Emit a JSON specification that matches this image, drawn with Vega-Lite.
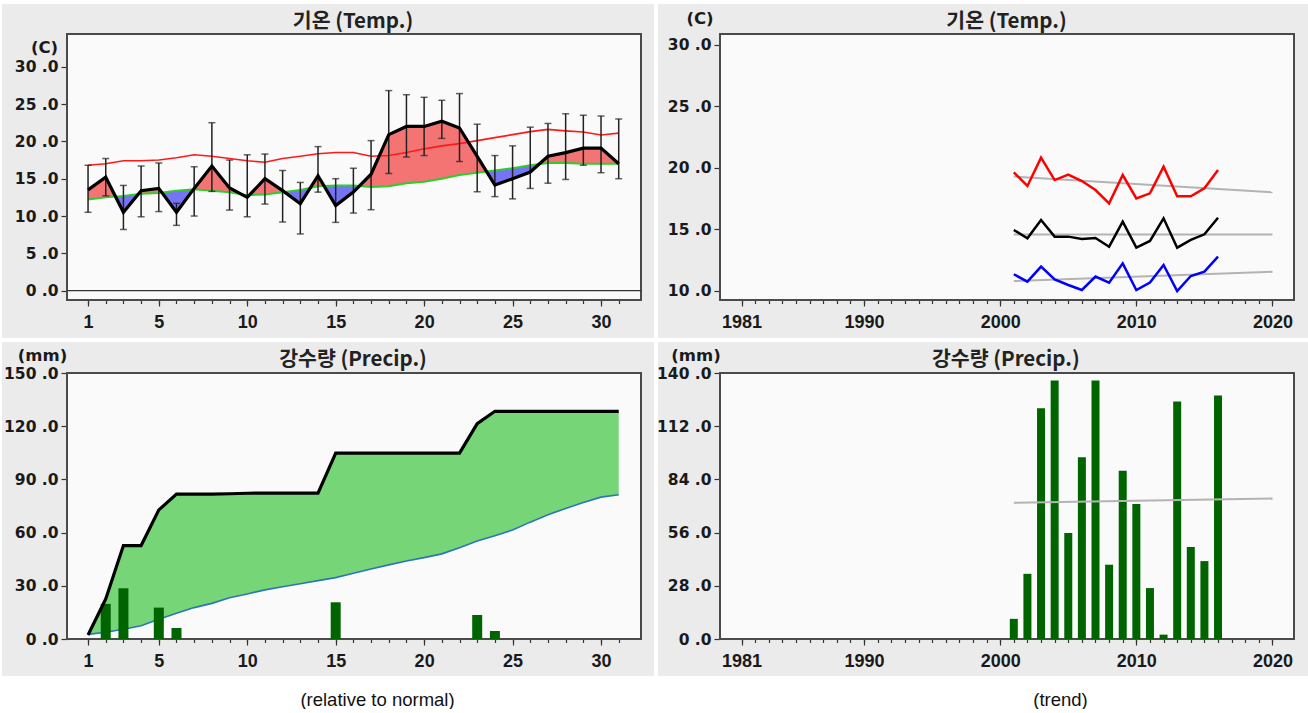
{
  "$schema": "https://vega.github.io/schema/vega-lite/v6.json",
  "background": "white",
  "padding": {"left": 2, "top": 4, "right": 0, "bottom": 0},
  "bounds": "flush",
  "spacing": 4,
  "columns": 2,
  "datasets": {
    "temp": [
      {"day":1,"obs":13.5,"normal":12.2,"ref":16.8,"hi":16.8,"lo":10.5},
      {"day":2,"obs":15.2,"normal":12.5,"ref":17.0,"hi":17.7,"lo":12.7},
      {"day":3,"obs":10.5,"normal":12.7,"ref":17.4,"hi":14.1,"lo":8.2},
      {"day":4,"obs":13.4,"normal":13.0,"ref":17.4,"hi":16.7,"lo":9.9},
      {"day":5,"obs":13.7,"normal":13.1,"ref":17.5,"hi":17.1,"lo":10.6},
      {"day":6,"obs":10.5,"normal":13.4,"ref":17.8,"hi":11.7,"lo":8.75},
      {"day":7,"obs":13.7,"normal":13.6,"ref":18.2,"hi":16.6,"lo":10.0},
      {"day":8,"obs":16.7,"normal":13.4,"ref":18.0,"hi":22.5,"lo":13.3},
      {"day":9,"obs":13.75,"normal":13.2,"ref":17.7,"hi":17.5,"lo":10.8},
      {"day":10,"obs":12.5,"normal":12.8,"ref":17.4,"hi":18.2,"lo":9.9},
      {"day":11,"obs":15.0,"normal":12.9,"ref":17.2,"hi":18.3,"lo":11.6},
      {"day":12,"obs":13.4,"normal":13.2,"ref":17.7,"hi":16.1,"lo":9.2},
      {"day":13,"obs":11.65,"normal":13.5,"ref":18.0,"hi":14.5,"lo":7.6},
      {"day":14,"obs":15.4,"normal":14.0,"ref":18.35,"hi":19.3,"lo":13.2},
      {"day":15,"obs":11.4,"normal":14.1,"ref":18.5,"hi":15.0,"lo":9.15},
      {"day":16,"obs":13.2,"normal":14.1,"ref":18.5,"hi":16.4,"lo":10.4},
      {"day":17,"obs":15.6,"normal":13.9,"ref":18.0,"hi":20.1,"lo":10.85},
      {"day":18,"obs":20.9,"normal":14.0,"ref":18.1,"hi":26.8,"lo":15.7},
      {"day":19,"obs":22.0,"normal":14.4,"ref":18.5,"hi":26.25,"lo":17.9},
      {"day":20,"obs":22.0,"normal":14.6,"ref":19.0,"hi":25.9,"lo":18.1},
      {"day":21,"obs":22.7,"normal":15.0,"ref":19.4,"hi":25.5,"lo":20.4},
      {"day":22,"obs":21.8,"normal":15.5,"ref":19.7,"hi":26.4,"lo":17.3},
      {"day":23,"obs":18.0,"normal":15.8,"ref":20.1,"hi":22.3,"lo":13.25},
      {"day":24,"obs":14.15,"normal":16.1,"ref":20.5,"hi":18.1,"lo":12.6},
      {"day":25,"obs":15.0,"normal":16.4,"ref":20.9,"hi":19.4,"lo":12.3},
      {"day":26,"obs":15.9,"normal":16.8,"ref":21.3,"hi":21.9,"lo":13.7},
      {"day":27,"obs":18.0,"normal":17.1,"ref":21.6,"hi":22.4,"lo":14.4},
      {"day":28,"obs":18.5,"normal":17.1,"ref":21.4,"hi":23.7,"lo":14.9},
      {"day":29,"obs":19.1,"normal":17.0,"ref":21.25,"hi":23.5,"lo":16.8},
      {"day":30,"obs":19.1,"normal":17.0,"ref":20.85,"hi":23.4,"lo":15.8},
      {"day":31,"obs":17.0,"normal":17.0,"ref":21.1,"hi":23.0,"lo":15.0}
    ],
    "fill": [
      {"seg":"A","s":"pos","d":1,"top":13.5,"base":12.2},
      {"seg":"A","s":"pos","d":2,"top":15.2,"base":12.5},
      {"seg":"A","s":"pos","d":2.55,"top":12.61,"base":12.61},
      {"seg":"B","s":"neg","d":2.55,"top":12.61,"base":12.61},
      {"seg":"B","s":"neg","d":3,"top":10.5,"base":12.7},
      {"seg":"B","s":"neg","d":3.85,"top":12.95,"base":12.95},
      {"seg":"C","s":"pos","d":3.85,"top":12.95,"base":12.95},
      {"seg":"C","s":"pos","d":4,"top":13.4,"base":13.0},
      {"seg":"C","s":"pos","d":5,"top":13.7,"base":13.1},
      {"seg":"C","s":"pos","d":5.17,"top":13.15,"base":13.15},
      {"seg":"D","s":"neg","d":5.17,"top":13.15,"base":13.15},
      {"seg":"D","s":"neg","d":6,"top":10.5,"base":13.4},
      {"seg":"D","s":"neg","d":6.97,"top":13.59,"base":13.59},
      {"seg":"E","s":"pos","d":6.97,"top":13.59,"base":13.59},
      {"seg":"E","s":"pos","d":7,"top":13.7,"base":13.6},
      {"seg":"E","s":"pos","d":8,"top":16.7,"base":13.4},
      {"seg":"E","s":"pos","d":9,"top":13.75,"base":13.2},
      {"seg":"E","s":"pos","d":9.65,"top":12.94,"base":12.94},
      {"seg":"F","s":"neg","d":9.65,"top":12.94,"base":12.94},
      {"seg":"F","s":"neg","d":10,"top":12.5,"base":12.8},
      {"seg":"F","s":"neg","d":10.125,"top":12.81,"base":12.81},
      {"seg":"G","s":"pos","d":10.125,"top":12.81,"base":12.81},
      {"seg":"G","s":"pos","d":11,"top":15.0,"base":12.9},
      {"seg":"G","s":"pos","d":12,"top":13.4,"base":13.2},
      {"seg":"G","s":"pos","d":12.1,"top":13.23,"base":13.23},
      {"seg":"H","s":"neg","d":12.1,"top":13.23,"base":13.23},
      {"seg":"H","s":"neg","d":13,"top":11.65,"base":13.5},
      {"seg":"H","s":"neg","d":13.57,"top":13.78,"base":13.78},
      {"seg":"I","s":"pos","d":13.57,"top":13.78,"base":13.78},
      {"seg":"I","s":"pos","d":14,"top":15.4,"base":14.0},
      {"seg":"I","s":"pos","d":14.34,"top":14.03,"base":14.03},
      {"seg":"J","s":"neg","d":14.34,"top":14.03,"base":14.03},
      {"seg":"J","s":"neg","d":15,"top":11.4,"base":14.1},
      {"seg":"J","s":"neg","d":16,"top":13.2,"base":14.1},
      {"seg":"J","s":"neg","d":16.35,"top":14.03,"base":14.03},
      {"seg":"K","s":"pos","d":16.35,"top":14.03,"base":14.03},
      {"seg":"K","s":"pos","d":17,"top":15.6,"base":13.9},
      {"seg":"K","s":"pos","d":18,"top":20.9,"base":14.0},
      {"seg":"K","s":"pos","d":19,"top":22.0,"base":14.4},
      {"seg":"K","s":"pos","d":20,"top":22.0,"base":14.6},
      {"seg":"K","s":"pos","d":21,"top":22.7,"base":15.0},
      {"seg":"K","s":"pos","d":22,"top":21.8,"base":15.5},
      {"seg":"K","s":"pos","d":23,"top":18.0,"base":15.8},
      {"seg":"K","s":"pos","d":23.53,"top":15.96,"base":15.96},
      {"seg":"L","s":"neg","d":23.53,"top":15.96,"base":15.96},
      {"seg":"L","s":"neg","d":24,"top":14.15,"base":16.1},
      {"seg":"L","s":"neg","d":25,"top":15.0,"base":16.4},
      {"seg":"L","s":"neg","d":26,"top":15.9,"base":16.8},
      {"seg":"L","s":"neg","d":26.5,"top":16.95,"base":16.95},
      {"seg":"M","s":"pos","d":26.5,"top":16.95,"base":16.95},
      {"seg":"M","s":"pos","d":27,"top":18.0,"base":17.1},
      {"seg":"M","s":"pos","d":28,"top":18.5,"base":17.1},
      {"seg":"M","s":"pos","d":29,"top":19.1,"base":17.0},
      {"seg":"M","s":"pos","d":30,"top":19.1,"base":17.0},
      {"seg":"M","s":"pos","d":31,"top":17.0,"base":17.0}
    ],
    "precip": [
      {"day":1,"daily":0,"cum":2.3,"norm":2.6},
      {"day":2,"daily":19.8,"cum":22.6,"norm":3.8},
      {"day":3,"daily":28.6,"cum":52.7,"norm":5.5},
      {"day":4,"daily":0,"cum":52.7,"norm":7.5},
      {"day":5,"daily":17.7,"cum":72.8,"norm":11.1},
      {"day":6,"daily":6.2,"cum":81.7,"norm":14.5},
      {"day":7,"daily":0,"cum":81.7,"norm":17.7},
      {"day":8,"daily":0,"cum":81.7,"norm":20.1},
      {"day":9,"daily":0,"cum":81.9,"norm":23.3},
      {"day":10,"daily":0,"cum":82.2,"norm":25.4},
      {"day":11,"daily":0,"cum":82.3,"norm":27.7},
      {"day":12,"daily":0,"cum":82.3,"norm":29.5},
      {"day":13,"daily":0,"cum":82.3,"norm":31.2},
      {"day":14,"daily":0,"cum":82.3,"norm":32.9},
      {"day":15,"daily":20.7,"cum":104.8,"norm":34.6},
      {"day":16,"daily":0,"cum":104.8,"norm":37.1},
      {"day":17,"daily":0,"cum":104.8,"norm":39.5},
      {"day":18,"daily":0,"cum":104.8,"norm":41.8},
      {"day":19,"daily":0,"cum":104.8,"norm":44.0},
      {"day":20,"daily":0,"cum":104.8,"norm":45.9},
      {"day":21,"daily":0,"cum":104.8,"norm":48.0},
      {"day":22,"daily":0,"cum":104.8,"norm":51.4},
      {"day":23,"daily":13.55,"cum":121.4,"norm":55.3},
      {"day":24,"daily":4.5,"cum":128.4,"norm":58.2},
      {"day":25,"daily":0,"cum":128.4,"norm":61.5},
      {"day":26,"daily":0,"cum":128.4,"norm":65.9},
      {"day":27,"daily":0,"cum":128.4,"norm":70.0},
      {"day":28,"daily":0,"cum":128.4,"norm":73.6},
      {"day":29,"daily":0,"cum":128.4,"norm":77.0},
      {"day":30,"daily":0,"cum":128.4,"norm":80.0},
      {"day":31,"daily":0,"cum":128.4,"norm":81.3}
    ],
    "years": [
      {"year":2001,"max":19.65,"mean":14.96,"min":11.36,"prcp":10.6},
      {"year":2002,"max":18.54,"mean":14.28,"min":10.76,"prcp":34.3},
      {"year":2003,"max":20.84,"mean":15.77,"min":11.98,"prcp":121.5},
      {"year":2004,"max":19.02,"mean":14.42,"min":10.95,"prcp":136.1},
      {"year":2005,"max":19.46,"mean":14.42,"min":10.49,"prcp":55.8},
      {"year":2006,"max":18.94,"mean":14.23,"min":10.08,"prcp":95.6},
      {"year":2007,"max":18.21,"mean":14.31,"min":11.17,"prcp":136.1},
      {"year":2008,"max":17.13,"mean":13.6,"min":10.68,"prcp":39.1},
      {"year":2009,"max":19.43,"mean":15.64,"min":12.25,"prcp":88.6},
      {"year":2010,"max":17.53,"mean":13.52,"min":10.08,"prcp":71.0},
      {"year":2011,"max":17.94,"mean":14.07,"min":10.68,"prcp":26.8},
      {"year":2012,"max":20.11,"mean":15.91,"min":12.11,"prcp":2.3},
      {"year":2013,"max":17.7,"mean":13.52,"min":10.0,"prcp":125.0},
      {"year":2014,"max":17.7,"mean":14.15,"min":11.22,"prcp":48.4},
      {"year":2015,"max":18.35,"mean":14.61,"min":11.57,"prcp":41.0},
      {"year":2016,"max":19.84,"mean":15.96,"min":12.79,"prcp":128.2}
    ],
    "trendT": [
      {"s":"max","year":2001,"v":19.3},
      {"s":"max","year":2020,"v":18.02},
      {"s":"mean","year":2001,"v":14.6},
      {"s":"mean","year":2020,"v":14.6},
      {"s":"min","year":2001,"v":10.81},
      {"s":"min","year":2020,"v":11.57}
    ],
    "trendP": [
      {"year":2001,"v":71.7},
      {"year":2020,"v":74.0}
    ]
  },
  "concat": [
    {
      "width": 652,
      "height": 334,
      "title": {"text": "기온  (Temp.)", "dx": 25},
      "resolve": {"axis": {"x": "independent"}},
      "layer": [
        {
          "data": {"values": [{}]},
          "mark": {"type": "rect", "fill": "#fafafa", "stroke": "#4a4a4a", "strokeWidth": 2},
          "encoding": {
            "x": {"datum": -0.19, "type": "quantitative", "axis": null,
              "scale": {"domain": [-0.19, 32.26], "range": [65, 639], "zero": false, "nice": false, "padding": 0}},
            "x2": {"datum": 32.26},
            "y": {"datum": -1.245, "type": "quantitative",
              "scale": {"domain": [-1.245, 34.38], "range": [296, 30], "zero": false, "nice": false, "padding": 0}},
            "y2": {"datum": 34.38}
          }
        },
        {
          "data": {"name": "fill"},
          "mark": {"type": "area", "opacity": 1},
          "encoding": {
            "x": {"field": "d", "type": "quantitative", "axis": null},
            "y": {"field": "top", "type": "quantitative"},
            "y2": {"field": "base"},
            "detail": {"field": "seg"},
            "color": {"field": "s", "type": "nominal", "scale": {"domain": ["pos", "neg"], "range": ["#f47474", "#7474f4"]}, "legend": null}
          }
        },
        {
          "data": {"values": [{}]},
          "mark": {"type": "rule", "color": "#333333", "strokeWidth": 1.2},
          "encoding": {
            "x": {"datum": -0.19, "type": "quantitative", "axis": null},
            "x2": {"datum": 32.26},
            "y": {"datum": 0, "type": "quantitative"}
          }
        },
        {
          "data": {"name": "temp"},
          "mark": {"type": "line", "color": "#ff1a1a", "strokeWidth": 1.6},
          "encoding": {
            "x": {"field": "day", "type": "quantitative",
              "axis": {"values": [1,5,10,15,20,25,30], "format": "d", "tickSize": 6, "orient": "bottom",
                "labelOverlap": false, "offset": -38, "title": null}},
            "y": {"field": "ref", "type": "quantitative",
              "axis": {"values": [0,5,10,15,20,25,30], "labelExpr": "format(datum.value, 'd') + ' .0'",
                "labelOverlap": false, "offset": -65, "title": "(C)", "titleX": -23, "titleY": 43.5}}
          }
        },
        {
          "data": {"name": "temp"},
          "mark": {"type": "line", "color": "#2ecc2e", "strokeWidth": 2},
          "encoding": {
            "x": {"field": "day", "type": "quantitative",
              "axis": {"values": [1,2,3,4,5,6,7,8,9,10,11,12,13,14,15,16,17,18,19,20,21,22,23,24,25,26,27,28,29,30,31],
                "labels": false, "tickSize": 3.5, "orient": "bottom", "offset": -38, "title": null}},
            "y": {"field": "normal", "type": "quantitative"}
          }
        },
        {
          "data": {"name": "temp"},
          "mark": {"type": "rule", "color": "#222222", "strokeWidth": 1.5},
          "encoding": {
            "x": {"field": "day", "type": "quantitative", "axis": null},
            "y": {"field": "lo", "type": "quantitative"},
            "y2": {"field": "hi"}
          }
        },
        {
          "data": {"name": "temp"},
          "mark": {"type": "tick", "orient": "horizontal", "color": "#222222", "size": 7, "thickness": 1.5},
          "encoding": {
            "x": {"field": "day", "type": "quantitative", "axis": null},
            "y": {"field": "hi", "type": "quantitative"}
          }
        },
        {
          "data": {"name": "temp"},
          "mark": {"type": "tick", "orient": "horizontal", "color": "#222222", "size": 7, "thickness": 1.5},
          "encoding": {
            "x": {"field": "day", "type": "quantitative", "axis": null},
            "y": {"field": "lo", "type": "quantitative"}
          }
        },
        {
          "data": {"name": "temp"},
          "mark": {"type": "line", "color": "#000000", "strokeWidth": 3.2},
          "encoding": {
            "x": {"field": "day", "type": "quantitative", "axis": null},
            "y": {"field": "obs", "type": "quantitative"}
          }
        }
      ]
    },
    {
      "width": 650,
      "height": 334,
      "title": {"text": "기온  (Temp.)", "dx": 23.5},
      "resolve": {"axis": {"x": "independent"}},
      "layer": [
        {
          "data": {"values": [{}]},
          "mark": {"type": "rect", "fill": "#fafafa", "stroke": "#4a4a4a", "strokeWidth": 2},
          "encoding": {
            "x": {"datum": 1979.42, "type": "quantitative", "axis": null,
              "scale": {"domain": [1979.42, 2021.58], "range": [62, 636], "zero": false, "nice": false, "padding": 0}},
            "x2": {"datum": 2021.58},
            "y": {"datum": 9.268, "type": "quantitative",
              "scale": {"domain": [9.268, 30.894], "range": [296, 30], "zero": false, "nice": false, "padding": 0}},
            "y2": {"datum": 30.894}
          }
        },
        {
          "data": {"name": "trendT"},
          "mark": {"type": "line", "color": "#b3b3b3", "strokeWidth": 2},
          "encoding": {
            "x": {"field": "year", "type": "quantitative", "axis": null},
            "y": {"field": "v", "type": "quantitative"},
            "detail": {"field": "s"}
          }
        },
        {
          "data": {"name": "years"},
          "mark": {"type": "line", "color": "#ff0000", "strokeWidth": 2.5},
          "encoding": {
            "x": {"field": "year", "type": "quantitative",
              "axis": {"values": [1981,1990,2000,2010,2020], "format": "d", "tickSize": 6, "orient": "bottom",
                "labelOverlap": false, "offset": -38, "title": null}},
            "y": {"field": "max", "type": "quantitative",
              "axis": {"values": [10,15,20,25,30], "labelExpr": "format(datum.value, 'd') + ' .0'",
                "labelOverlap": false, "offset": -62, "title": "(C)", "titleX": -20.5, "titleY": 14}}
          }
        },
        {
          "data": {"name": "years"},
          "mark": {"type": "line", "color": "#000000", "strokeWidth": 2.5},
          "encoding": {
            "x": {"field": "year", "type": "quantitative",
              "axis": {"values": [1981,1982,1983,1984,1985,1986,1987,1988,1989,1990,1991,1992,1993,1994,1995,1996,1997,1998,1999,2000,2001,2002,2003,2004,2005,2006,2007,2008,2009,2010,2011,2012,2013,2014,2015,2016,2017,2018,2019,2020],
                "labels": false, "tickSize": 3.5, "orient": "bottom", "offset": -38, "title": null}},
            "y": {"field": "mean", "type": "quantitative"}
          }
        },
        {
          "data": {"name": "years"},
          "mark": {"type": "line", "color": "#0000ff", "strokeWidth": 2.5},
          "encoding": {
            "x": {"field": "year", "type": "quantitative", "axis": null},
            "y": {"field": "min", "type": "quantitative"}
          }
        }
      ]
    },
    {
      "width": 652,
      "height": 334,
      "title": {"text": "강수량  (Precip.)", "dx": 25},
      "resolve": {"axis": {"x": "independent"}},
      "layer": [
        {
          "data": {"values": [{}]},
          "mark": {"type": "rect", "fill": "#fafafa", "stroke": "#4a4a4a", "strokeWidth": 2},
          "encoding": {
            "x": {"datum": -0.19, "type": "quantitative", "axis": null,
              "scale": {"domain": [-0.19, 32.26], "range": [65, 639], "zero": false, "nice": false, "padding": 0}},
            "x2": {"datum": 32.26},
            "y": {"datum": 0, "type": "quantitative",
              "scale": {"domain": [0, 150], "range": [297, 31], "zero": false, "nice": false, "padding": 0}},
            "y2": {"datum": 150}
          }
        },
        {
          "data": {"name": "precip"},
          "mark": {"type": "area", "color": "#76d576", "opacity": 1},
          "encoding": {
            "x": {"field": "day", "type": "quantitative", "axis": null},
            "y": {"field": "cum", "type": "quantitative"},
            "y2": {"field": "norm"}
          }
        },
        {
          "data": {"name": "precip"},
          "mark": {"type": "line", "color": "#2a77b3", "strokeWidth": 1.6},
          "encoding": {
            "x": {"field": "day", "type": "quantitative",
              "axis": {"values": [1,5,10,15,20,25,30], "format": "d", "tickSize": 6, "orient": "bottom",
                "labelOverlap": false, "offset": -37, "title": "(relative to normal)", "titleX": 375, "titleY": 60}},
            "y": {"field": "norm", "type": "quantitative",
              "axis": {"values": [0,30,60,90,120,150], "labelExpr": "format(datum.value, 'd') + ' .0'",
                "labelOverlap": false, "offset": -65, "title": "(mm)", "titleX": -25, "titleY": 13}}
          }
        },
        {
          "data": {"name": "precip"},
          "mark": {"type": "bar", "color": "#006400", "size": 10},
          "encoding": {
            "x": {"field": "day", "type": "quantitative",
              "axis": {"values": [1,2,3,4,5,6,7,8,9,10,11,12,13,14,15,16,17,18,19,20,21,22,23,24,25,26,27,28,29,30,31],
                "labels": false, "tickSize": 3.5, "orient": "bottom", "offset": -37, "title": null}},
            "y": {"field": "daily", "type": "quantitative"}
          }
        },
        {
          "data": {"name": "precip"},
          "mark": {"type": "line", "color": "#000000", "strokeWidth": 3.2},
          "encoding": {
            "x": {"field": "day", "type": "quantitative", "axis": null},
            "y": {"field": "cum", "type": "quantitative"}
          }
        }
      ]
    },
    {
      "width": 650,
      "height": 334,
      "title": {"text": "강수량  (Precip.)", "dx": 22.8},
      "resolve": {"axis": {"x": "independent"}},
      "layer": [
        {
          "data": {"values": [{}]},
          "mark": {"type": "rect", "fill": "#fafafa", "stroke": "#4a4a4a", "strokeWidth": 2},
          "encoding": {
            "x": {"datum": 1979.42, "type": "quantitative", "axis": null,
              "scale": {"domain": [1979.42, 2021.58], "range": [62, 636], "zero": false, "nice": false, "padding": 0}},
            "x2": {"datum": 2021.58},
            "y": {"datum": 0, "type": "quantitative",
              "scale": {"domain": [0, 140], "range": [297, 31], "zero": false, "nice": false, "padding": 0}},
            "y2": {"datum": 140}
          }
        },
        {
          "data": {"name": "years"},
          "mark": {"type": "bar", "color": "#006400", "size": 8},
          "encoding": {
            "x": {"field": "year", "type": "quantitative",
              "axis": {"values": [1981,1990,2000,2010,2020], "format": "d", "tickSize": 6, "orient": "bottom",
                "labelOverlap": false, "offset": -37, "title": "(trend)", "titleX": 402, "titleY": 60}},
            "y": {"field": "prcp", "type": "quantitative",
              "axis": {"values": [0,28,56,84,112,140], "labelExpr": "format(datum.value, 'd') + ' .0'",
                "labelOverlap": false, "offset": -62, "title": "(mm)", "titleX": -24.5, "titleY": 13}}
          }
        },
        {
          "data": {"name": "trendP"},
          "mark": {"type": "line", "color": "#b3b3b3", "strokeWidth": 2},
          "encoding": {
            "x": {"field": "year", "type": "quantitative",
              "axis": {"values": [1981,1982,1983,1984,1985,1986,1987,1988,1989,1990,1991,1992,1993,1994,1995,1996,1997,1998,1999,2000,2001,2002,2003,2004,2005,2006,2007,2008,2009,2010,2011,2012,2013,2014,2015,2016,2017,2018,2019,2020],
                "labels": false, "tickSize": 3.5, "orient": "bottom", "offset": -37, "title": null}},
            "y": {"field": "v", "type": "quantitative"}
          }
        }
      ]
    }
  ],
  "config": {
    "view": {"fill": "#ebebeb", "stroke": null},
    "title": {"font": "Noto Sans CJK KR", "fontSize": 20.5, "fontWeight": "bold", "color": "#222222", "frame": "group", "anchor": "middle", "baseline": "middle", "offset": -28},
    "axisX": {"domain": false, "grid": false, "tickColor": "#333333", "tickWidth": 1.2, "labelFont": "Liberation Sans", "labelFontSize": 18, "labelFontWeight": "bold", "labelColor": "#1a1a1a", "labelPadding": 7, "labelOverlap": false, "labelFlush": false, "labelBaseline": "top",
      "titleFont": "Liberation Sans", "titleFontSize": 18.5, "titleFontWeight": "normal", "titleColor": "#111111", "titleAlign": "center", "titleBaseline": "middle", "zindex": 1},
    "axisY": {"domain": false, "grid": true, "gridDash": [2, 2], "gridColor": "#8c8c8c", "gridWidth": 1, "tickSize": 6, "tickColor": "#333333", "tickWidth": 1.2,
      "labelFont": "DejaVu Sans", "labelFontSize": 15.5, "labelFontWeight": "bold", "labelColor": "#1a1a1a", "labelPadding": 3, "labelOverlap": false, "labelFlush": false,
      "titleFont": "DejaVu Sans", "titleFontSize": 16.5, "titleFontWeight": "bold", "titleColor": "#1a1a1a", "titleAngle": 0, "titleAlign": "center", "titleBaseline": "middle", "zindex": 1}
  }
}
